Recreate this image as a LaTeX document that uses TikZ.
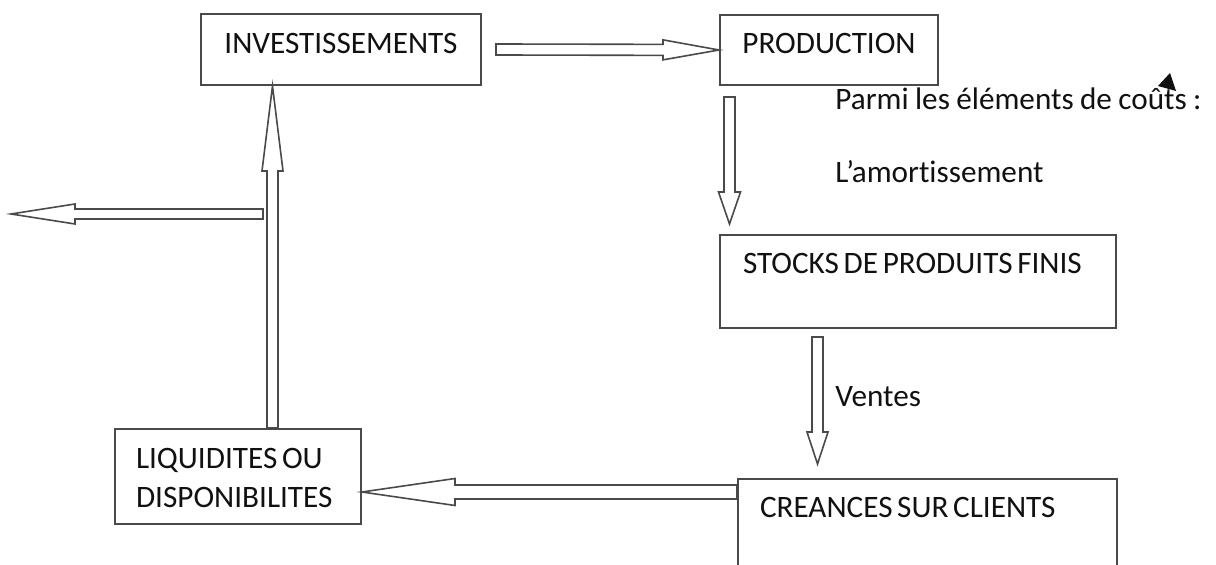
\documentclass[tikz,border=0pt]{standalone}
\usepackage{fontspec}
\setmainfont{Carlito}[Ligatures=NoCommon, WordSpace=0.9]
\usetikzlibrary{positioning,calc}
\definecolor{ink}{HTML}{111111}
\definecolor{rule}{HTML}{4A4A4A}
\newcommand{\tightspace}{\spaceskip 0.15em\relax}
\tikzset{
  bloc/.style={rectangle, draw=rule, line width=1pt, fill=white, anchor=north west,
    inner sep=0pt, text=ink, font=\fontsize{15.6}{19.5}\selectfont},
  fleche/.style={draw=rule, line width=0.8pt, fill=white, line join=miter},
  note/.style={anchor=base west, inner sep=0pt, text=ink, font=\fontsize{15.6}{19.5}\selectfont},
}
% #1 shaft half width, #2 head half width, #3 head length, #4 from, #5 tip
\newcommand{\blockarrow}[5]{%
  \path (#4) coordinate (ba-s) (#5) coordinate (ba-t);
  \coordinate (ba-h) at ($(ba-t)!#3!(ba-s)$);
  \draw[fleche] ($(ba-s)!#1!90:(ba-t)$) -- ($(ba-h)!#1!90:(ba-t)$)
    -- ($(ba-h)!#2!90:(ba-t)$) -- (ba-t) -- ($(ba-h)!#2!-90:(ba-t)$)
    -- ($(ba-h)!#1!-90:(ba-t)$) -- ($(ba-s)!#1!-90:(ba-t)$) -- cycle;
}

\begin{document}
\begin{tikzpicture}[x=0.5pt,y=-0.5pt]
  \useasboundingbox (0,0) rectangle (1216,565);
  \clip (0,0) rectangle (1216,565);

  \node[bloc, text width=140pt, align=center, text height=20pt, text depth=15.5pt]
    (inv) at (200,13) {INVESTISSEMENTS};
  \node[bloc, text width=109pt, align=center, text height=19.5pt, text depth=15.5pt]
    (prod) at (719,14) {PRODUCTION};
  \node[bloc, text width=198pt, align=left, text height=19.5pt, text depth=27pt]
    (stocks) at (719,234) {\tightspace\hspace*{11.5pt}STOCKS DE PRODUITS FINIS};
  \node[bloc, text width=189.5pt, align=left, text height=19.5pt, text depth=40pt]
    (cre) at (737,478) {\tightspace\hspace*{11pt}CREANCES SUR CLIENTS};
  \node[bloc, text width=123pt, align=left, text height=20pt, text depth=27.5pt]
    (liq) at (114,428) {\tightspace\hspace*{10.5pt}LIQUIDITES OU\\\hspace*{10.5pt}DISPONIBILITES};

  \node[note] (cout) at (835,110) {Parmi les éléments de coûts :};
  \node[note] (amort) at (835,183) {L’amortissement};
  \node[note] (ventes) at (835,407) {Ventes};

  \coordinate (depart) at (263,214);
  \coordinate (sortie) at (11,214);

  \blockarrow{2.75pt}{5pt}{28pt}{$(inv.east)+(14,0)$}{prod.west}
  \blockarrow{2.75pt}{5.5pt}{16pt}{$(prod.south west)+(10.5,11)$}{$(stocks.north west)+(10.5,-10)$}
  \blockarrow{2.75pt}{5.25pt}{16pt}{$(stocks.south west)+(98.5,8)$}{$(cre.north west)+(80.5,-14)$}
  \blockarrow{3.5pt}{6.75pt}{46.5pt}{$(cre.north west)+(0,14)$}{$(liq.north east)+(0,64)$}
  \blockarrow{2.75pt}{5.25pt}{42.5pt}{$(liq.north west)+(158.5,0)$}{$(inv.south west)+(72.5,0)$}
  \blockarrow{2.5pt}{5pt}{32pt}{depart}{sortie}

  \fill[ink] (1170,73) -- (1158,86) -- (1176,91) -- cycle;
\end{tikzpicture}
\end{document}
